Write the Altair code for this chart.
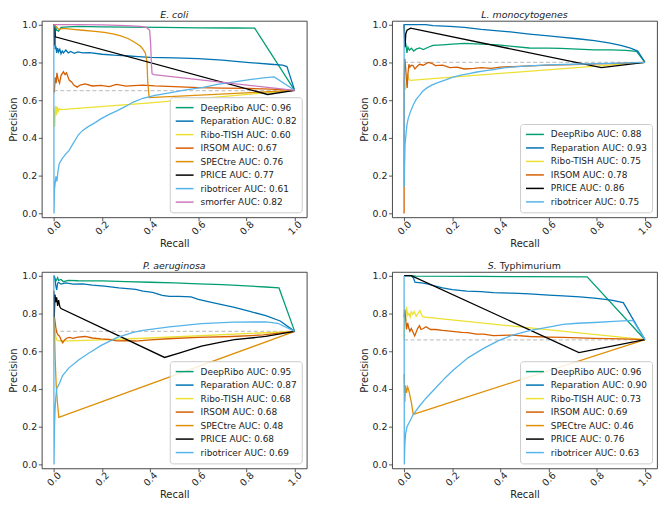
import altair as alt
import pandas as pd

# ---------------- data ----------------
METHOD_COLORS = {
    "DeepRibo": "#029e73", "Reparation": "#0173b2", "Ribo-TISH": "#ece133",
    "IRSOM": "#d55e00", "SPECtre": "#de8f05", "PRICE": "#000000",
    "ribotricer": "#56b4e9", "smorfer": "#cc78bc",
}

# ---- E. coli ----
EC_BASE = 0.65
EC_DEEPRIBO_R = [0, 0.003, 0.008, 0.012, 0.02, 0.03, 0.06, 0.1, 0.2, 0.3, 0.45, 0.6, 0.75, 0.834, 1.0]
EC_DEEPRIBO_P = [1.0, 1.0, 0.985, 0.97, 0.965, 0.985, 0.988, 0.99, 0.988, 0.986, 0.985, 0.983, 0.982, 0.981, 0.652]
EC_REPAR_R = [0, 0.002, 0.004, 0.006, 0.009, 0.012, 0.016, 0.02, 0.025, 0.03, 0.035, 0.04, 0.05, 0.06, 0.07, 0.085, 0.1,
              0.12, 0.15, 0.2, 0.25, 0.3, 0.35, 0.4, 0.5, 0.6, 0.7, 0.8, 0.9, 0.95, 0.968, 1.0]
EC_REPAR_P = [1.0, 0.99, 0.93, 0.87, 0.885, 0.85, 0.875, 0.855, 0.87, 0.845, 0.86, 0.85, 0.865, 0.85, 0.858, 0.848, 0.855,
              0.85, 0.852, 0.843, 0.838, 0.835, 0.83, 0.826, 0.824, 0.82, 0.812, 0.8, 0.79, 0.785, 0.778, 0.652]
EC_TISH_R = [0, 0.002, 0.004, 0.006, 0.008, 0.011, 0.014, 0.018, 0.022, 0.03, 0.4, 1.0]
EC_TISH_P = [0.56, 0.51, 0.46, 0.53, 0.57, 0.52, 0.565, 0.54, 0.555, 0.55, 0.586, 0.652]
EC_IRSOM_R = [0.002, 0.006, 0.01, 0.013, 0.018, 0.024, 0.03, 0.04, 0.047, 0.053, 0.064, 0.075, 0.083, 0.097, 0.11, 0.13,
              0.16, 0.196, 0.23, 0.26, 0.3, 0.33, 0.37, 0.42, 0.5, 0.6, 0.7, 0.8, 0.9, 1.0]
EC_IRSOM_P = [0.64, 0.72, 0.69, 0.745, 0.71, 0.69, 0.73, 0.75, 0.735, 0.745, 0.706, 0.695, 0.68, 0.669, 0.68, 0.686,
              0.675, 0.678, 0.672, 0.683, 0.674, 0.677, 0.68, 0.676, 0.672, 0.666, 0.664, 0.662, 0.658, 0.652]
EC_SPEC_R = [0, 0.01, 0.02, 0.04, 0.08, 0.12, 0.16, 0.21, 0.25, 0.278, 0.31, 0.344, 0.36, 0.37, 0.38, 0.387, 0.39, 0.396, 1.0]
EC_SPEC_P = [1.0, 0.99, 0.975, 0.98, 0.975, 0.97, 0.965, 0.959, 0.95, 0.94, 0.925, 0.9, 0.885, 0.87, 0.85, 0.8, 0.7, 0.613, 0.652]
EC_PRICE_R = [0, 0.003, 0.005, 0.006, 0.888, 1.0]
EC_PRICE_P = [1.0, 0.89, 0.98, 0.935, 0.63, 0.652]
EC_RIBOT_R = [0, 0.001, 0.003, 0.009, 0.013, 0.017, 0.023, 0.035, 0.05, 0.063, 0.08, 0.103, 0.12, 0.143, 0.17, 0.197,
              0.23, 0.264, 0.3, 0.33, 0.37, 0.42, 0.48, 0.53, 0.57, 0.62, 0.68, 0.75, 0.82, 0.87, 0.915, 1.0]
EC_RIBOT_P = [1.0, 0.0, 0.129, 0.197, 0.17, 0.22, 0.265, 0.29, 0.316, 0.333, 0.37, 0.418, 0.44, 0.46, 0.48, 0.502,
              0.525, 0.545, 0.568, 0.59, 0.61, 0.625, 0.638, 0.65, 0.658, 0.668, 0.683, 0.697, 0.71, 0.718, 0.723, 0.652]
EC_SMORF_R = [0, 0.1, 0.2, 0.3, 0.36, 0.385, 0.398, 0.402, 0.405, 0.408, 0.415, 1.0]
EC_SMORF_P = [1.0, 1.0, 0.998, 0.995, 0.99, 0.985, 0.97, 0.9, 0.8, 0.74, 0.735, 0.652]

# ---- L. monocytogenes ----
LM_BASE = 0.80
LM_DEEPRIBO_R = [0, 0.002, 0.004, 0.008, 0.012, 0.016, 0.022, 0.03, 0.04, 0.05, 0.064, 0.08, 0.1, 0.12, 0.16, 0.2, 0.25,
                 0.3, 0.39, 0.45, 0.52, 0.6, 0.65, 0.72, 0.79, 0.86, 0.92, 0.965, 1.0]
LM_DEEPRIBO_P = [1.0, 0.96, 0.92, 0.89, 0.85, 0.88, 0.865, 0.875, 0.86, 0.87, 0.876, 0.868, 0.88, 0.89, 0.893, 0.897, 0.9,
                 0.898, 0.893, 0.885, 0.876, 0.875, 0.874, 0.87, 0.866, 0.866, 0.863, 0.858, 0.8]
LM_REPAR_R = [0, 0.09, 0.12, 0.19, 0.25, 0.32, 0.39, 0.45, 0.52, 0.6, 0.65, 0.72, 0.79, 0.85, 0.9, 0.94, 0.97, 1.0]
LM_REPAR_P = [1.0, 1.0, 0.995, 0.99, 0.985, 0.975, 0.967, 0.96, 0.95, 0.94, 0.934, 0.925, 0.915, 0.903, 0.89, 0.875, 0.86, 0.8]
LM_TISH_R = [0, 0.003, 0.006, 0.01, 0.014, 0.02, 0.026, 1.0]
LM_TISH_P = [0.72, 0.68, 0.655, 0.7, 0.74, 0.71, 0.705, 0.8]
LM_IRSOM_R = [0, 0, 0, 0.003, 0.006, 0.01, 0.013, 0.016, 0.02, 0.024, 0.03, 0.037, 0.045, 0.055, 0.064, 0.08, 0.1, 0.115,
              0.13, 0.16, 0.19, 0.22, 0.25, 0.29, 0.32, 0.36, 0.4, 0.5, 0.6, 0.7, 0.8, 0.9, 1.0]
LM_IRSOM_P = [0.0, 0.14, 0.7, 0.82, 0.78, 0.70, 0.665, 0.74, 0.79, 0.775, 0.785, 0.783, 0.765, 0.78, 0.79, 0.785, 0.8, 0.795,
              0.783, 0.785, 0.772, 0.775, 0.765, 0.768, 0.772, 0.768, 0.775, 0.78, 0.785, 0.788, 0.792, 0.795, 0.8]
LM_PRICE_R = [0, 0.002, 0.004, 0.007, 0.012, 0.027, 0.819, 1.0]
LM_PRICE_P = [1.0, 0.93, 0.88, 0.95, 0.97, 0.981, 0.772, 0.8]
LM_RIBOT_R = [0, 0.0005, 0.002, 0.004, 0.008, 0.012, 0.017, 0.024, 0.031, 0.04, 0.05, 0.064, 0.077, 0.095, 0.117, 0.14,
              0.17, 0.2, 0.236, 0.27, 0.302, 0.34, 0.37, 0.42, 0.5, 0.6, 0.7, 0.8, 0.9, 1.0]
LM_RIBOT_P = [1.0, 0.14, 0.25, 0.367, 0.42, 0.47, 0.502, 0.53, 0.553, 0.58, 0.604, 0.625, 0.647, 0.665, 0.681, 0.693,
              0.706, 0.72, 0.732, 0.741, 0.749, 0.756, 0.762, 0.772, 0.78, 0.787, 0.79, 0.793, 0.796, 0.8]

# ---- P. aeruginosa ----
PA_BASE = 0.705
PA_DEEPRIBO_R = [0, 0.004, 0.008, 0.012, 0.016, 0.02, 0.03, 0.04, 0.06, 0.1, 0.2, 0.3, 0.4, 0.5, 0.6, 0.7, 0.8, 0.88, 0.935, 1.0]
PA_DEEPRIBO_P = [1.0, 0.985, 0.97, 0.98, 0.99, 0.975, 0.98, 0.968, 0.975, 0.973, 0.972, 0.968, 0.965, 0.962, 0.956, 0.952,
                 0.946, 0.94, 0.935, 0.705]
PA_REPAR_R = [0, 0.004, 0.008, 0.012, 0.016, 0.02, 0.03, 0.05, 0.08, 0.12, 0.16, 0.21, 0.27, 0.34, 0.37, 0.41, 0.45, 0.48,
              0.52, 0.57, 0.6, 0.65, 0.75, 0.81, 0.88, 0.94, 1.0]
PA_REPAR_P = [1.0, 0.99, 0.95, 0.925, 0.96, 0.965, 0.955, 0.962, 0.955, 0.957, 0.95, 0.944, 0.935, 0.927, 0.918, 0.912,
              0.895, 0.89, 0.89, 0.888, 0.875, 0.86, 0.832, 0.812, 0.788, 0.76, 0.705]
PA_TISH_R = [0, 0.004, 0.008, 0.012, 0.02, 0.06, 0.2, 0.4, 1.0]
PA_TISH_P = [0.78, 0.72, 0.68, 0.66, 0.655, 0.655, 0.66, 0.67, 0.705]
PA_IRSOM_R = [0, 0.004, 0.008, 0.012, 0.018, 0.024, 0.03, 0.037, 0.045, 0.055, 0.064, 0.08, 0.1, 0.13, 0.16, 0.196, 0.23,
              0.262, 0.3, 0.34, 0.4, 0.475, 0.6, 0.74, 0.87, 1.0]
PA_IRSOM_P = [0.8, 0.77, 0.73, 0.7, 0.685, 0.68, 0.66, 0.645, 0.66, 0.67, 0.673, 0.668, 0.675, 0.678, 0.67, 0.665, 0.662,
              0.655, 0.656, 0.654, 0.66, 0.666, 0.673, 0.678, 0.686, 0.705]
PA_SPEC_R = [0, 0.003, 0.006, 0.01, 0.015, 0.021, 1.0]
PA_SPEC_P = [0.78, 0.7, 0.55, 0.42, 0.33, 0.25, 0.705]
PA_PRICE_R = [0, 0.002, 0.005, 0.008, 0.012, 0.016, 0.02, 0.025, 0.03, 0.46, 0.52, 0.57, 0.613, 0.7, 0.75, 0.88, 1.0]
PA_PRICE_P = [0.92, 0.78, 0.9, 0.86, 0.885, 0.84, 0.87, 0.835, 0.826, 0.567, 0.59, 0.61, 0.627, 0.65, 0.661, 0.678, 0.705]
PA_RIBOT_R = [0, 0.001, 0.003, 0.005, 0.008, 0.012, 0.024, 0.036, 0.063, 0.103, 0.143, 0.197, 0.264, 0.33, 0.37, 0.48,
              0.613, 0.746, 0.88, 0.93, 1.0]
PA_RIBOT_P = [1.0, 0.0, 0.2, 0.283, 0.35, 0.402, 0.43, 0.47, 0.512, 0.554, 0.588, 0.631, 0.673, 0.7, 0.71, 0.729, 0.746,
              0.754, 0.755, 0.748, 0.705]

# ---- S. Typhimurium ----
ST_BASE = 0.66
ST_DEEPRIBO_R = [0, 0.02, 0.05, 0.3, 0.5, 0.76, 1.0]
ST_DEEPRIBO_P = [1.0, 1.0, 0.998, 0.996, 0.995, 0.994, 0.661]
ST_REPAR_R = [0, 0.03, 0.04, 0.045, 0.06, 0.08, 0.1, 0.13, 0.16, 0.2, 0.26, 0.32, 0.37, 0.45, 0.52, 0.6, 0.66, 0.73, 0.8,
              0.86, 0.91, 1.0]
ST_REPAR_P = [1.0, 1.0, 0.985, 0.965, 0.963, 0.96, 0.955, 0.945, 0.935, 0.926, 0.918, 0.915, 0.91, 0.907, 0.903, 0.897,
              0.893, 0.888, 0.88, 0.87, 0.857, 0.661]
ST_TISH_R = [0, 0.003, 0.006, 0.01, 0.015, 0.02, 0.025, 0.03, 0.036, 0.042, 0.05, 0.058, 0.066, 0.072, 0.078, 1.0]
ST_TISH_P = [0.66, 0.8, 0.76, 0.835, 0.79, 0.8, 0.78, 0.81, 0.795, 0.81, 0.785, 0.8, 0.815, 0.795, 0.782, 0.661]
ST_IRSOM_R = [0, 0.003, 0.006, 0.01, 0.015, 0.02, 0.024, 0.03, 0.037, 0.044, 0.05, 0.056, 0.064, 0.07, 0.08, 0.091, 0.11,
              0.131, 0.16, 0.2, 0.24, 0.265, 0.3, 0.33, 0.37, 0.45, 0.52, 0.6, 0.66, 0.79, 0.9, 1.0]
ST_IRSOM_P = [0.78, 0.82, 0.78, 0.715, 0.75, 0.72, 0.705, 0.72, 0.7, 0.681, 0.7, 0.72, 0.735, 0.715, 0.72, 0.73, 0.715,
              0.715, 0.71, 0.705, 0.7, 0.698, 0.69, 0.69, 0.683, 0.685, 0.678, 0.675, 0.673, 0.668, 0.665, 0.661]
ST_SPEC_R = [0, 0.003, 0.006, 0.01, 0.015, 0.02, 0.025, 0.03, 0.038, 1.0]
ST_SPEC_P = [0.48, 0.33, 0.42, 0.38, 0.41, 0.39, 0.36, 0.33, 0.266, 0.661]
ST_PRICE_R = [0, 0.03, 0.726, 1.0]
ST_PRICE_P = [1.0, 1.0, 0.593, 0.661]
ST_RIBOT_R = [0, 0.001, 0.003, 0.006, 0.012, 0.02, 0.038, 0.064, 0.09, 0.131, 0.171, 0.2, 0.265, 0.33, 0.39, 0.45, 0.525,
              0.6, 0.66, 0.72, 0.79, 0.87, 0.95, 1.0]
ST_RIBOT_P = [1.0, 0.0, 0.1, 0.16, 0.2, 0.22, 0.265, 0.31, 0.35, 0.405, 0.46, 0.495, 0.565, 0.615, 0.655, 0.685, 0.71,
              0.728, 0.742, 0.748, 0.752, 0.758, 0.763, 0.661]

PANELS = [
    {"title": [("E. coli", "italic")], "base": EC_BASE, "series": [
        ("DeepRibo", 0.96, EC_DEEPRIBO_R, EC_DEEPRIBO_P), ("Reparation", 0.82, EC_REPAR_R, EC_REPAR_P),
        ("Ribo-TISH", 0.60, EC_TISH_R, EC_TISH_P), ("IRSOM", 0.67, EC_IRSOM_R, EC_IRSOM_P),
        ("SPECtre", 0.76, EC_SPEC_R, EC_SPEC_P), ("PRICE", 0.77, EC_PRICE_R, EC_PRICE_P),
        ("ribotricer", 0.61, EC_RIBOT_R, EC_RIBOT_P), ("smorfer", 0.82, EC_SMORF_R, EC_SMORF_P)]},
    {"title": [("L. monocytogenes", "italic")], "base": LM_BASE, "series": [
        ("DeepRibo", 0.88, LM_DEEPRIBO_R, LM_DEEPRIBO_P), ("Reparation", 0.93, LM_REPAR_R, LM_REPAR_P),
        ("Ribo-TISH", 0.75, LM_TISH_R, LM_TISH_P), ("IRSOM", 0.78, LM_IRSOM_R, LM_IRSOM_P),
        ("PRICE", 0.86, LM_PRICE_R, LM_PRICE_P), ("ribotricer", 0.75, LM_RIBOT_R, LM_RIBOT_P)]},
    {"title": [("P. aeruginosa", "italic")], "base": PA_BASE, "series": [
        ("DeepRibo", 0.95, PA_DEEPRIBO_R, PA_DEEPRIBO_P), ("Reparation", 0.87, PA_REPAR_R, PA_REPAR_P),
        ("Ribo-TISH", 0.68, PA_TISH_R, PA_TISH_P), ("IRSOM", 0.68, PA_IRSOM_R, PA_IRSOM_P),
        ("SPECtre", 0.48, PA_SPEC_R, PA_SPEC_P), ("PRICE", 0.68, PA_PRICE_R, PA_PRICE_P),
        ("ribotricer", 0.69, PA_RIBOT_R, PA_RIBOT_P)]},
    {"title": [("S.", "italic"), ("Typhimurium", "normal")], "base": ST_BASE, "series": [
        ("DeepRibo", 0.96, ST_DEEPRIBO_R, ST_DEEPRIBO_P), ("Reparation", 0.90, ST_REPAR_R, ST_REPAR_P),
        ("Ribo-TISH", 0.73, ST_TISH_R, ST_TISH_P), ("IRSOM", 0.69, ST_IRSOM_R, ST_IRSOM_P),
        ("SPECtre", 0.46, ST_SPEC_R, ST_SPEC_P), ("PRICE", 0.76, ST_PRICE_R, ST_PRICE_P),
        ("ribotricer", 0.63, ST_RIBOT_R, ST_RIBOT_P)]},
]

TICKS = [0.0, 0.2, 0.4, 0.6, 0.8, 1.0]
W, H = 267, 198
FONT = "DejaVu Sans"
TXT = "#222222"
TITLE_Y = -2.5


def make_panel(spec):
    rows, labels, colors = [], [], []
    for name, auc, rr, pp in spec["series"]:
        lab = f"{name} AUC: {auc:.2f}"
        labels.append(lab)
        colors.append(METHOD_COLORS[name])
        for j, (r, p) in enumerate(zip(rr, pp)):
            rows.append({"label": lab, "recall": r, "precision": p, "idx": j})
    df = pd.DataFrame(rows)

    xs = alt.Scale(domain=[-0.05, 1.05], nice=False, zero=False)
    ys = alt.Scale(domain=[-0.02, 1.02], nice=False, zero=False)
    xaxis = alt.Axis(title="Recall", values=TICKS, format=".1f", labelAngle=315, labelAlign="center",
                     labelBaseline="middle", labelPadding=7, titlePadding=2, labelFlush=False,
                     labelOverlap=False, labelBound=False)
    yaxis = alt.Axis(title="Precision", values=TICKS, format=".1f", labelPadding=1.5, titlePadding=3,
                     labelFlush=False, labelOverlap=False)

    base_df = pd.DataFrame({"x0": [0.0], "x1": [1.0], "b": [spec["base"]]})
    rule = alt.Chart(base_df).mark_rule(color="#c6c6c6", strokeDash=[4, 2.5], strokeWidth=1.2).encode(
        x=alt.X("x0:Q", scale=xs, axis=xaxis), x2="x1:Q",
        y=alt.Y("b:Q", scale=ys, axis=yaxis))

    lines = alt.Chart(df).mark_line(strokeWidth=1.3, clip=True).encode(
        x=alt.X("recall:Q", scale=xs, axis=xaxis),
        y=alt.Y("precision:Q", scale=ys, axis=yaxis),
        color=alt.Color("label:N", scale=alt.Scale(domain=labels, range=colors), sort=labels,
                        legend=alt.Legend(title=None, orient="bottom-right", offset=5, padding=5,
                                          fillColor="rgba(255,255,255,0.85)", strokeColor="#cccccc",
                                          cornerRadius=3, labelFontSize=9, labelFont=FONT, labelColor=TXT,
                                          symbolType="M-1,0H3", symbolSize=81, symbolStrokeWidth=1.5,
                                          labelOffset=15, rowPadding=2.6)),
        order=alt.Order("idx:Q"),
    )

    # panel title as text (allows mixed italic/upright in S. Typhimurium)
    parts = spec["title"]
    if len(parts) == 1:
        t_df = pd.DataFrame({"t": [parts[0][0]]})
        tlayers = [alt.Chart(t_df).mark_text(font=FONT, fontSize=9.5, fontStyle=parts[0][1], color=TXT,
                                              align="center", baseline="alphabetic").encode(
            text="t:N", x=alt.value(W / 2), y=alt.value(TITLE_Y))]
    else:
        t1 = pd.DataFrame({"t": [parts[0][0]]})
        t2 = pd.DataFrame({"t": [parts[1][0]]})
        tlayers = [
            alt.Chart(t1).mark_text(font=FONT, fontSize=9.5, fontStyle=parts[0][1], color=TXT,
                                    align="left", baseline="alphabetic").encode(
                text="t:N", x=alt.value(W / 2 - 37), y=alt.value(TITLE_Y)),
            alt.Chart(t2).mark_text(font=FONT, fontSize=9.5, fontStyle=parts[1][1], color=TXT,
                                    align="left", baseline="alphabetic").encode(
                text="t:N", x=alt.value(W / 2 - 25), y=alt.value(TITLE_Y)),
        ]
    return alt.layer(rule, lines, *tlayers).properties(width=W, height=H)


p = [make_panel(s) for s in PANELS]
row1 = alt.hconcat(p[0], p[1], spacing=51).resolve_scale(color="independent", x="independent", y="independent")
row2 = alt.hconcat(p[2], p[3], spacing=51).resolve_scale(color="independent", x="independent", y="independent")
chart = alt.vconcat(row1, row2, spacing=12).resolve_scale(
    color="independent", x="independent", y="independent"
).properties(padding=0).configure(font=FONT).configure_view(
    stroke="#333333", strokeWidth=0.9
).configure_axis(
    labelFont=FONT, titleFont=FONT, labelFontSize=9.5, titleFontSize=10, titleFontWeight="normal",
    labelColor=TXT, titleColor=TXT, tickColor="#333333", tickSize=3.5, tickWidth=0.8,
    domain=False, grid=False
)

chart.save("out.html", embed_options={"renderer": "svg", "actions": False})
